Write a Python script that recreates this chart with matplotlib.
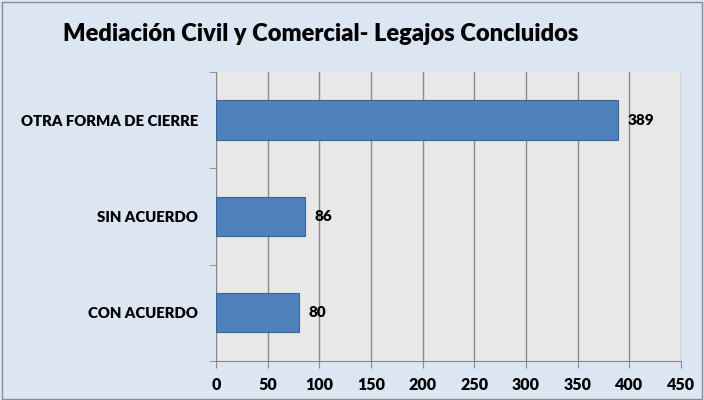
import matplotlib
matplotlib.use('Agg')
import matplotlib.pyplot as plt
from matplotlib.patches import Rectangle

# chart data
categories = ['CON ACUERDO', 'SIN ACUERDO', 'OTRA FORMA DE CIERRE']
values = [80, 86, 389]
x_ticks = [0, 50, 100, 150, 200, 250, 300, 350, 400, 450]
title = 'Mediación Civil y Comercial- Legajos Concluidos'

plt.rcParams['font.family'] = ['Lato', 'DejaVu Sans']
W = 'heavy'

fig = plt.figure(figsize=(7.04, 4.0), dpi=100, facecolor='#dce6f2')
fig.patches.append(Rectangle((0.003, 0.003), 0.994, 0.992, transform=fig.transFigure,
                             fill=False, edgecolor='#8c8c8c', linewidth=1.0))
ax = fig.add_axes([0.307, 0.098, 0.660, 0.722])
ax.set_facecolor('#e8e8e8')

pos = range(len(categories))
bars = ax.barh(pos, values, height=0.41, color='#4f81bd', edgecolor='#3a6595', linewidth=0.8, zorder=3)

for bar, v in zip(bars, values):
    ax.annotate(f'{v}', (bar.get_width(), bar.get_y() + bar.get_height() / 2),
                xytext=(7, 0), textcoords='offset points', va='center', ha='left',
                fontsize=11, fontweight=W)

ax.set_xlim(0, 450)
ax.set_ylim(-0.5, len(categories) - 0.5)
ax.set_xticks(x_ticks)
ax.set_xticklabels([str(t) for t in x_ticks], fontsize=11.5, fontweight=W)
ax.set_yticks(list(pos))
ax.set_yticklabels(categories, fontsize=10.7, fontweight=W)
ax.tick_params(axis='y', length=0, pad=13)
ax.tick_params(axis='x', length=5, color='#888888', pad=7, direction='out')
# category boundary ticks on the y axis
ax.set_yticks([-0.5, 0.5, 1.5, 2.5], minor=True)
ax.tick_params(axis='y', which='minor', length=5, color='#888888')

ax.grid(True, axis='x', color='#8c8c8c', linewidth=1.0, zorder=0)
for side in ['top', 'right']:
    ax.spines[side].set_visible(False)
ax.spines['left'].set_color('#888888')
ax.spines['bottom'].set_color('#888888')

fig.text(0.455, 0.915, title, ha='center', va='center', fontsize=17, fontweight=W)

fig.savefig('out.png', dpi=100, facecolor=fig.get_facecolor())
